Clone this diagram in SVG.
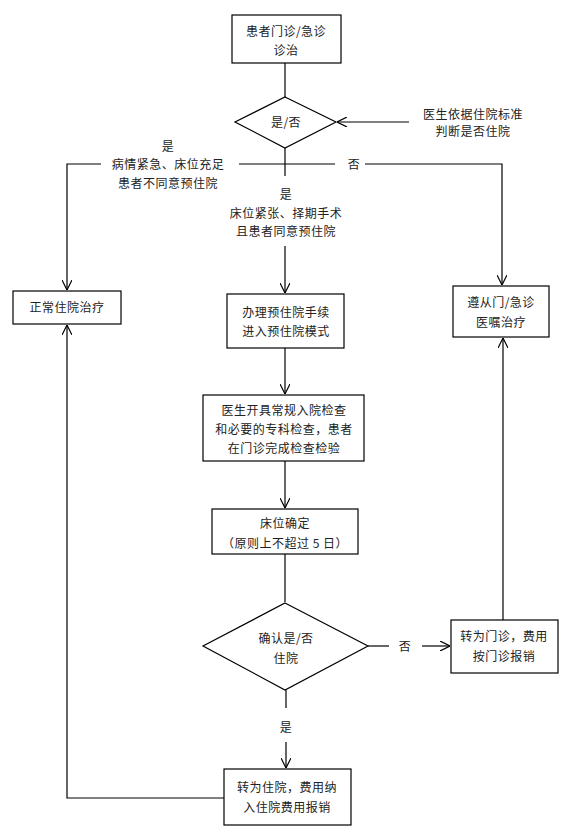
<svg xmlns="http://www.w3.org/2000/svg" width="585" height="838" viewBox="0 0 585 838">
<defs>
<marker id="arr" viewBox="0 0 10 10" refX="10" refY="5" markerWidth="10" markerHeight="10" markerUnits="userSpaceOnUse" orient="auto">
<path d="M0,0 L10,5 L0,10" fill="none" stroke="#000" stroke-width="1.2"/>
</marker>
</defs>
<style>
.n{fill:#fff;stroke:#000;stroke-width:1.2}
.c{fill:none;stroke:#000;stroke-width:1.2}
text{font-family:"Noto Sans CJK SC","Noto Sans",sans-serif;font-size:12px;fill:#222;text-anchor:middle;letter-spacing:0.5px}
</style>
<rect width="585" height="838" fill="#fff"/>
<g id="connectors">
<line class="c" x1="285" y1="63" x2="285" y2="97"/>
<line class="c" x1="409" y1="122" x2="337" y2="122" marker-end="url(#arr)"/>
<line class="c" x1="285" y1="148" x2="285" y2="176"/>
<line class="c" x1="239" y1="164" x2="335" y2="164"/>
<polyline class="c" points="365,164 502,164 502,285" marker-end="url(#arr)"/>
<polyline class="c" points="101,164 67,164 67,290" marker-end="url(#arr)"/>
<line class="c" x1="285" y1="246" x2="285" y2="293" marker-end="url(#arr)"/>
<line class="c" x1="285" y1="348" x2="285" y2="394" marker-end="url(#arr)"/>
<line class="c" x1="285" y1="461" x2="285" y2="508" marker-end="url(#arr)"/>
<line class="c" x1="285" y1="554" x2="285" y2="602"/>
<line class="c" x1="368" y1="646" x2="389" y2="646"/>
<line class="c" x1="422" y1="646" x2="450" y2="646" marker-end="url(#arr)"/>
<line class="c" x1="503" y1="620" x2="503" y2="338" marker-end="url(#arr)"/>
<line class="c" x1="286" y1="690" x2="286" y2="708"/>
<line class="c" x1="286" y1="742" x2="286" y2="768" marker-end="url(#arr)"/>
<polyline class="c" points="224,798 67,798 67,325" marker-end="url(#arr)"/>
</g>
<g id="edge-labels">
<text x="168" y="151">是</text>
<text x="168" y="169">病情紧急、床位充足</text>
<text x="168" y="188">患者不同意预住院</text>
<text x="354" y="169">否</text>
<text x="286" y="199">是</text>
<text x="286" y="218">床位紧张、择期手术</text>
<text x="286" y="236">且患者同意预住院</text>
<text x="405" y="651">否</text>
<text x="286" y="732">是</text>
<text x="473" y="119">医生依据住院标准</text>
<text x="473" y="136">判断是否住院</text>
</g>
<g id="n1"><rect class="n" x="232" y="15" width="109" height="48"/><text x="286" y="36">患者门诊/急诊</text><text x="286" y="55">诊治</text></g>
<g id="d1"><polygon class="n" points="285,97 336,122 285,148 235,122"/><text x="286" y="127">是/否</text></g>
<g id="n2"><rect class="n" x="13" y="291" width="108" height="33"/><text x="67" y="312">正常住院治疗</text></g>
<g id="n3"><rect class="n" x="227" y="294" width="117" height="54"/><text x="286" y="317">办理预住院手续</text><text x="286" y="336">进入预住院模式</text></g>
<g id="n4"><rect class="n" x="453" y="286" width="96" height="51"/><text x="501" y="307">遵从门/急诊</text><text x="501" y="327">医嘱治疗</text></g>
<g id="n5"><rect class="n" x="203" y="395" width="161" height="66"/><text x="284" y="415">医生开具常规入院检查</text><text x="284" y="434">和必要的专科检查，患者</text><text x="284" y="453">在门诊完成检查检验</text></g>
<g id="n6"><rect class="n" x="212" y="509" width="146" height="45"/><text x="285" y="528">床位确定</text><text x="285" y="548">（原则上不超过 5 日）</text></g>
<g id="d2"><polygon class="n" points="285,603 368,646 285,690 203,646"/><text x="286" y="643">确认是/否</text><text x="286" y="663">住院</text></g>
<g id="n7"><rect class="n" x="451" y="620" width="107" height="53"/><text x="504" y="641">转为门诊，费用</text><text x="504" y="661">按门诊报销</text></g>
<g id="n8"><rect class="n" x="224" y="769" width="127" height="56"/><text x="287" y="792">转为住院，费用纳</text><text x="287" y="812">入住院费用报销</text></g>
</svg>
